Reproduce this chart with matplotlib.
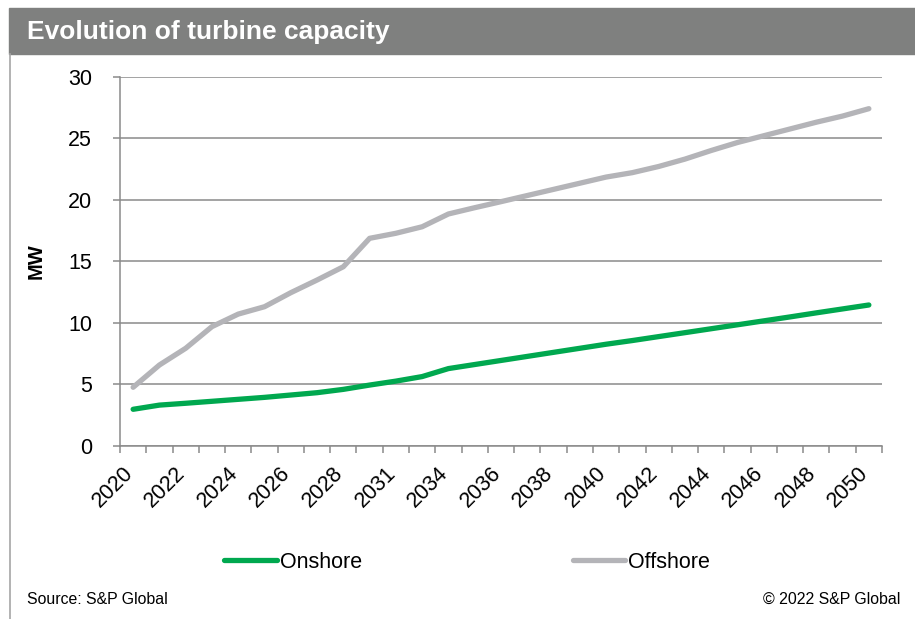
import numpy as np
import matplotlib.pyplot as plt
from matplotlib.patches import Rectangle
from matplotlib.lines import Line2D
from matplotlib.transforms import ScaledTranslation

plt.rcParams['font.family'] = ['Liberation Sans', 'DejaVu Sans']

# categories (two years are missing in the source data)
years = [2020, 2021, 2022, 2023, 2024, 2025, 2026, 2027, 2028, 2030,
         2031, 2032, 2034, 2035, 2036, 2037, 2038, 2039, 2040, 2041,
         2042, 2043, 2044, 2045, 2046, 2047, 2048, 2049, 2050]

# turbine capacity, MW
onshore = [2.96, 3.3, 3.45, 3.61, 3.77, 3.93, 4.12, 4.31, 4.58, 4.93,
           5.25, 5.62, 6.27, 6.6, 6.93, 7.26, 7.59, 7.92, 8.25, 8.55,
           8.87, 9.19, 9.51, 9.83, 10.15, 10.47, 10.8, 11.12, 11.44]
offshore = [4.75, 6.56, 7.92, 9.68, 10.7, 11.3, 12.44, 13.47, 14.55, 16.86,
            17.27, 17.8, 18.84, 19.35, 19.84, 20.34, 20.84, 21.34, 21.84, 22.2,
            22.7, 23.3, 24.0, 24.65, 25.2, 25.75, 26.3, 26.8, 27.4]

green = '#00a84f'
grey_line = '#b4b4b8'
grid_col = '#8a8a8a'

W, H = 915, 619
fig = plt.figure(figsize=(W / 100, H / 100), dpi=100)
ax = fig.add_axes([120 / W, 1 - 445.7 / H, (882 - 120) / W, (445.7 - 76.7) / H])

x = np.arange(len(years))
ax.plot(x, onshore, color=green, lw=3.8, solid_capstyle='round',
        solid_joinstyle='round', label='Onshore', zorder=3)
ax.plot(x, offshore, color=grey_line, lw=3.8, solid_capstyle='round',
        solid_joinstyle='round', label='Offshore', zorder=3)

ax.set_xlim(-0.5, len(years) - 0.5)
ax.set_ylim(0, 30)
ax.set_yticks(range(0, 31, 5))
ax.yaxis.grid(True, color=grid_col, lw=1.1)
ax.set_axisbelow(True)

# boundary ticks (excel style) and labels on every other category
ax.set_xticks(np.arange(-0.5, len(years), 1))
ax.set_xticklabels([])
ax.set_xticks(x[::2], minor=True)
ax.set_xticklabels([str(years[i]) for i in x[::2]], minor=True,
                   rotation=45, ha='right', va='top')
ax.tick_params(axis='x', which='major', length=5, width=1.1, color=grid_col)
ax.tick_params(axis='x', which='minor', length=0, pad=12, labelsize=15.5)
ax.tick_params(axis='y', length=5, width=1.1, color=grid_col, pad=15, labelsize=15.5)
for lab in ax.get_xticklabels(minor=True):
    lab.set_transform(lab.get_transform() + ScaledTranslation(4 / 100, 0, fig.dpi_scale_trans))

for s in ['top', 'right']:
    ax.spines[s].set_visible(False)
for s in ['left', 'bottom']:
    ax.spines[s].set_color(grid_col)
    ax.spines[s].set_linewidth(1.1)

ax.set_ylabel('MW', fontsize=14.5, fontweight='bold')
ax.yaxis.set_label_coords((46 - 120) / 762, 0.5)

# title bar
fig.patches.append(Rectangle((9 / W, 1 - 54 / H), 1 - 9 / W, 46 / H,
                             transform=fig.transFigure, color='#7f807f', zorder=0))
fig.text(27 / W, 1 - 32 / H, 'Evolution of turbine capacity', color='white',
         fontsize=19, fontweight='bold', va='center', ha='left')
fig.lines.append(Line2D([10 / W, 10 / W], [0, 1 - 54 / H], transform=fig.transFigure,
                        color='#a6a6a6', lw=1.2))

fig.legend(loc='center', bbox_to_anchor=(467 / W, 1 - 562 / H), ncol=2, frameon=False,
           fontsize=15.5, handlelength=2.45, handletextpad=0.12, columnspacing=9.8)

fig.text(27 / W, 1 - 599 / H, 'Source: S&P Global', fontsize=11.4, va='center', ha='left')
fig.text(900 / W, 1 - 599 / H, '\u00a9 2022 S&P Global', fontsize=11.4, va='center', ha='right')

fig.savefig('out.png', dpi=100)
